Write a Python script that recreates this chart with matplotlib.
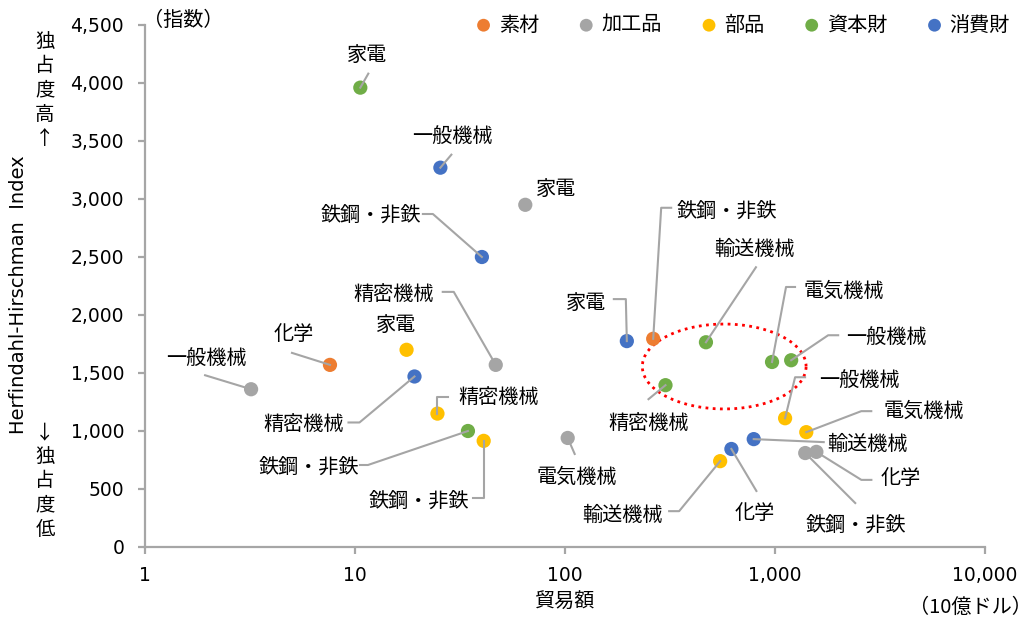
import numpy as np
import matplotlib
matplotlib.use("Agg")
import matplotlib.pyplot as plt
import matplotlib.transforms as mtransforms
from matplotlib.ticker import FixedLocator, FuncFormatter, NullLocator

JP = ["Noto Sans CJK JP", "DejaVu Sans"]
plt.rcParams["font.family"] = ["DejaVu Sans", "Noto Sans CJK JP"]

# --- data: trade value (10億ドル) and HHI by goods stage ---
categories = ["素材", "加工品", "部品", "資本財", "消費財"]
colors = ["#ED7D31", "#A5A5A5", "#FFC000", "#70AD47", "#4472C4"]

sozai_names = ["化学", "鉄鋼・非鉄"]
sozai_trade = [7.6, 263]
sozai_hhi = [1570, 1795]

kakou_names = ["一般機械", "家電", "精密機械", "電気機械", "化学", "鉄鋼・非鉄"]
kakou_trade = [3.2, 64.7, 46.8, 103, 1574, 1393]
kakou_hhi = [1360, 2950, 1570, 940, 820, 810]

buhin_names = ["家電", "精密機械", "鉄鋼・非鉄", "一般機械", "電気機械", "輸送機械"]
buhin_trade = [17.6, 24.7, 41.0, 1117, 1409, 548]
buhin_hhi = [1700, 1150, 915, 1110, 990, 740]

shihon_names = ["家電", "鉄鋼・非鉄", "精密機械", "輸送機械", "電気機械", "一般機械"]
shihon_trade = [10.6, 34.5, 301, 469, 968, 1194]
shihon_hhi = [3960, 1000, 1395, 1765, 1595, 1610]

shohi_names = ["一般機械", "鉄鋼・非鉄", "精密機械", "家電", "輸送機械", "化学"]
shohi_trade = [25.5, 40.2, 19.2, 197, 792, 620]
shohi_hhi = [3270, 2500, 1470, 1775, 930, 845]

series = [
    (sozai_names, sozai_trade, sozai_hhi),
    (kakou_names, kakou_trade, kakou_hhi),
    (buhin_names, buhin_trade, buhin_hhi),
    (shihon_names, shihon_trade, shihon_hhi),
    (shohi_names, shohi_trade, shohi_hhi),
]

# label placement in pixels relative to the point (x right, y down):
# (text offset, leader vertices)
label_layout = {
    ("素材", "化学"): ((-36, -30), [(0, 0), (-38, -12)]),
    ("素材", "鉄鋼・非鉄"): ((74, -127), [(0, 0), (8, -131), (18, -131)]),
    ("加工品", "一般機械"): ((-45, -31), [(0, 0), (-46, -14)]),
    ("加工品", "家電"): ((31, -15), None),
    ("加工品", "精密機械"): ((-102, -70), [(0, 0), (-42, -73), (-53, -73)]),
    ("加工品", "電気機械"): ((9, 39), [(0, 0), (7, 16)]),
    ("加工品", "化学"): ((84, 27), [(0, 0), (45, 28), (55, 28)]),
    ("加工品", "鉄鋼・非鉄"): ((51, 72), [(0, 0), (50, 50)]),
    ("部品", "家電"): ((-10, -24), None),
    ("部品", "精密機械"): ((61, -16), [(0, 0), (0, -17), (11, -17)]),
    ("部品", "鉄鋼・非鉄"): ((-65, 60), [(0, 0), (0, 57), (-11, 57)]),
    ("部品", "一般機械"): ((74, -38), [(0, 0), (10, -41), (20, -41)]),
    ("部品", "電気機械"): ((117, -21), [(0, 0), (55, -21), (65, -21)]),
    ("部品", "輸送機械"): ((-98, 54), [(0, 0), (-41, 50), (-51, 50)]),
    ("資本財", "家電"): ((7, -32), [(0, 0), (8, -14)]),
    ("資本財", "鉄鋼・非鉄"): ((-159, 36), [(0, 0), (-100, 34), (-108, 34)]),
    ("資本財", "精密機械"): ((-17, 38), [(0, 0), (-17, 14)]),
    ("資本財", "輸送機械"): ((49, -93), [(0, 0), (50, -75)]),
    ("資本財", "電気機械"): ((72, -71), [(0, 0), (14, -75), (23, -75)]),
    ("資本財", "一般機械"): ((95, -23), [(0, 0), (37, -25), (47, -25)]),
    ("消費財", "一般機械"): ((12, -31), [(0, 0), (11, -13)]),
    ("消費財", "鉄鋼・非鉄"): ((-111, -42), [(0, 0), (-49, -43), (-59, -43)]),
    ("消費財", "精密機械"): ((-111, 48), [(0, 0), (-55, 46), (-66, 46)]),
    ("消費財", "家電"): ((-41, -38), [(0, 0), (-1, -42), (-13, -42)]),
    ("消費財", "輸送機械"): ((114, 5), [(0, 0), (70, 3)]),
    ("消費財", "化学"): ((23, 65), [(0, 0), (25, 42)]),
}

W, H = 1033, 619
fig = plt.figure(figsize=(W / 100, H / 100), dpi=100)
ax = fig.add_axes([145 / W, 1 - 547 / H, (985 - 145) / W, (547 - 25) / H])

ax.set_xscale("log")
ax.set_xlim(1, 10000)
ax.set_ylim(0, 4500)
ax.autoscale(False)

axis_grey = "#A6A6A6"
for side in ["top", "right"]:
    ax.spines[side].set_visible(False)
for side in ["left", "bottom"]:
    ax.spines[side].set_color(axis_grey)
    ax.spines[side].set_linewidth(1.6)

ax.xaxis.set_major_locator(FixedLocator([1, 10, 100, 1000, 10000]))
ax.xaxis.set_minor_locator(NullLocator())
ax.yaxis.set_major_locator(FixedLocator(np.arange(0, 4501, 500)))
ax.xaxis.set_major_formatter(FuncFormatter(lambda v, p: f"{v:,.0f}"))
ax.yaxis.set_major_formatter(FuncFormatter(lambda v, p: f"{v:,.0f}"))
ax.tick_params(axis="both", which="major", direction="out", length=5, width=1.6,
               color=axis_grey, labelsize=13.5, labelcolor="#000000")
ax.tick_params(axis="y", pad=10)
ax.tick_params(axis="x", pad=9)

# scatter points per category
for cat, color, (names, trade, hhi) in zip(categories, colors, series):
    ax.scatter(trade, hhi, s=105, color=color, edgecolors="none", zorder=3, label=cat)

# leaders and labels
for cat, (names, trade, hhi) in zip(categories, series):
    for name, x, y in zip(names, trade, hhi):
        text_off, leader = label_layout[(cat, name)]
        px, py = ax.transData.transform((x, y))
        if leader:
            xs = [px + dx for dx, dy in leader]
            ys = [py - dy for dx, dy in leader]
            ax.plot(xs, ys, color="#A5A5A5", lw=1.5, zorder=4,
                    transform=mtransforms.IdentityTransform(), clip_on=False)
        ax.annotate(name, xy=(x, y), xytext=(text_off[0], -text_off[1]),
                    textcoords="offset pixels", ha="center", va="center",
                    fontsize=14.5, family=JP, color="#000000", zorder=5)

# dotted ring around the capital goods cluster
t = np.linspace(0, 2 * np.pi, 300)
ring_x = 10 ** (np.log10(573) + 0.39 * np.cos(t))
ring_y = 1556 + 366 * np.sin(t)
ax.plot(ring_x, ring_y, color="#FF0000", lw=2, linestyle=(0, (1, 1.6)), zorder=2)

# legend across the top
ax.legend(loc="center right", bbox_to_anchor=(1010 / W, 1 - 25 / H),
          bbox_transform=fig.transFigure, ncol=5, frameon=False,
          prop={"family": JP, "size": 14.5}, handlelength=0.7, handletextpad=0.4,
          columnspacing=2.0, borderpad=0, borderaxespad=0, markerscale=0.9)

# axis titles and units
ax.set_xlabel("貿易額", family=JP, fontsize=14.5, labelpad=4)
fig.text(19 / W, 1 - 295 / H, "Herfindahl-Hirschman  Index", rotation=90,
         ha="center", va="center", fontsize=14)
fig.text(45 / W, 1 - 90 / H, "独\n占\n度\n高\n↑", family=JP, fontsize=14,
         ha="center", va="center", linespacing=1.2)
fig.text(45 / W, 1 - 481 / H, "↓\n独\n占\n度\n低", family=JP, fontsize=14,
         ha="center", va="center", linespacing=1.2)
fig.text(143 / W, 1 - 20 / H, "（指数）", family=JP, fontsize=14.5, ha="left", va="center")
fig.text(1032 / W, 1 - 607 / H, "（10億ドル）", family=JP, fontsize=14.5, ha="right", va="center")

fig.savefig("out.png", dpi=100)
